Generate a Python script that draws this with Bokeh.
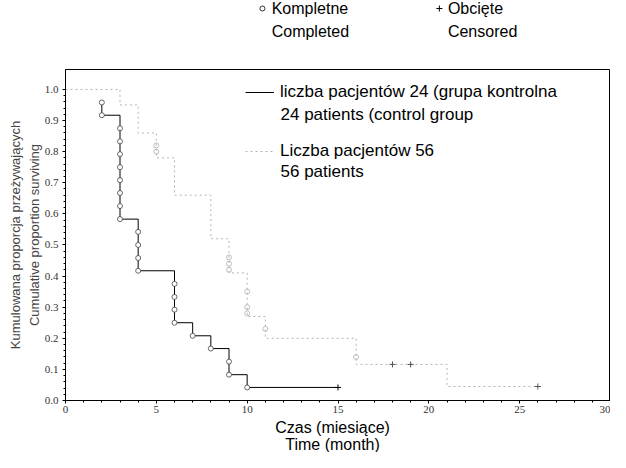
from bokeh.plotting import figure
from bokeh.layouts import column
from bokeh.models import (Range1d, Label, Legend, LegendItem, FixedTicker,
                          CustomJSTickFormatter, Title)
from bokeh.core.properties import value
from bokeh.embed import file_html
from bokeh.resources import INLINE

# ---- data -------------------------------------------------------------
# control group (24 patients): step curve
ctrl_time = [2, 2, 3, 4, 6, 7, 8, 9, 10, 15]
ctrl_surv = [0.958, 0.917, 0.583, 0.417, 0.25, 0.208, 0.167, 0.083, 0.042, 0.042]
# completed (death) marks on control curve
ctrl_done_time = [2, 2, 3, 3, 3, 3, 3, 3, 3, 3, 4, 4, 4, 4, 6, 6, 6, 6, 7, 8, 9, 9, 10]
ctrl_done_surv = [0.958, 0.917, 0.875, 0.833, 0.792, 0.75, 0.708, 0.667, 0.625, 0.583,
                  0.542, 0.5, 0.458, 0.417, 0.375, 0.333, 0.292, 0.25, 0.208, 0.167,
                  0.125, 0.083, 0.042]
ctrl_cens_time = [15]
ctrl_cens_surv = [0.042]

# group of 56 patients: step curve
grp_time = [0, 3, 4, 5, 6, 8, 9, 10, 11, 16, 21, 26]
grp_surv = [1.0, 0.95, 0.86, 0.78, 0.66, 0.52, 0.41, 0.27, 0.20, 0.116, 0.045, 0.045]
grp_done_time = [5, 5, 9, 9, 9, 10, 10, 10, 11, 16]
grp_done_surv = [0.82, 0.80, 0.46, 0.44, 0.42, 0.35, 0.30, 0.28, 0.23, 0.14]
grp_cens_time = [18, 19, 26]
grp_cens_surv = [0.116, 0.116, 0.045]

x_ticks = [0, 5, 10, 15, 20, 25, 30]
y_ticks = [0.0, 0.1, 0.2, 0.3, 0.4, 0.5, 0.6, 0.7, 0.8, 0.9, 1.0]

FONT = "Liberation Sans"
NARROW = "Liberation Sans Narrow"
W = 610
XMAX = 30


def blank(h):
    # strip sharing the main plot's horizontal scale (frames are aligned in the column)
    f = figure(width=W, height=h, output_backend="svg", toolbar_location=None,
               x_range=Range1d(0, XMAX), y_range=Range1d(0, h), min_border=0,
               x_axis_location=None, y_axis_location=None)
    f.grid.visible = False
    f.outline_line_color = None
    return f


# ---- header (symbol key) --------------------------------------------------
hdr = blank(68)
hdr.scatter([10.84], [60], marker="circle", size=5, fill_color=None,
            line_color="black", line_width=0.8)
hdr.scatter([20.58], [60], marker="cross", size=6, line_color="black", line_width=1)
hdr.text(x=[11.35, 11.35, 21.05, 21.05], y=[60, 37, 60, 37],
         text=["Kompletne", "Completed", "Obcięte", "Censored"],
         text_font=value(FONT), text_font_size="16px", text_baseline="middle",
         text_align="left", text_color="black")

# ---- main plot -------------------------------------------------------------
p = figure(width=W, height=350, output_backend="svg", toolbar_location=None,
           x_range=Range1d(0, XMAX), y_range=Range1d(0, 1.064),
           min_border_left=65, min_border_right=0, min_border_top=1,
           min_border_bottom=18)
p.xgrid.visible = False
p.ygrid.visible = False
p.outline_line_color = "black"
p.outline_line_width = 1

for ax in (p.xaxis[0], p.yaxis[0]):
    ax.axis_line_color = "black"
    ax.major_tick_line_color = "black"
    ax.minor_tick_line_color = "black"
    ax.major_tick_in = 0
    ax.major_tick_out = 3
    ax.minor_tick_in = 0
    ax.minor_tick_out = 2
    ax.major_label_text_font = NARROW
    ax.major_label_text_font_size = "11px"
    ax.major_label_text_color = "#333333"
p.xaxis.ticker = FixedTicker(ticks=x_ticks, minor_ticks=list(range(0, 31)))
p.yaxis.ticker = FixedTicker(ticks=y_ticks, minor_ticks=[i / 50 for i in range(0, 51)])
p.yaxis.formatter = CustomJSTickFormatter(code="return tick.toFixed(1);")
p.xaxis.major_label_standoff = 2
p.yaxis.major_label_standoff = 4

p.add_layout(Title(text="Cumulative proportion surviving", align="center",
                   text_font=FONT, text_font_size="13px", text_font_style="normal",
                   standoff=0), "left")
p.add_layout(Title(text="Kumulowana proporcja przeżywających", align="center",
                   text_font=FONT, text_font_size="13px", text_font_style="normal",
                   standoff=3), "left")

# ---- curves ------------------------------------------------------------
r_grp = p.step(grp_time, grp_surv, mode="after", line_color="#b4b4b4",
               line_width=1, line_dash="2 3")
p.scatter(grp_done_time, grp_done_surv, marker="circle", size=5,
          fill_color=None, line_color="#b0b0b0", line_width=0.8)
p.scatter(grp_cens_time, grp_cens_surv, marker="cross", size=6,
          line_color="#555555", line_width=1)

r_ctrl = p.step(ctrl_time, ctrl_surv, mode="after", line_color="black", line_width=1)
p.scatter(ctrl_done_time, ctrl_done_surv, marker="circle", size=5,
          fill_color="white", line_color="#444444", line_width=0.8)
p.scatter(ctrl_cens_time, ctrl_cens_surv, marker="cross", size=6,
          line_color="black", line_width=1)

# ---- legend inside -------------------------------------------------------
leg = Legend(items=[LegendItem(label="liczba pacjentów 24 (grupa kontrolna", renderers=[r_ctrl]),
                    LegendItem(label="Liczba pacjentów 56", renderers=[r_grp])],
             location=(180, 239), padding=0, margin=0, spacing=39,
             glyph_width=29, glyph_height=20, label_height=20, label_standoff=6,
             border_line_alpha=0, background_fill_alpha=0,
             label_text_font=FONT, label_text_font_size="17px",
             label_text_color="black")
p.add_layout(leg, "center")

for txt, yy in (("24 patients (control group", 286), ("56 patients", 229)):
    p.add_layout(Label(x=215, y=yy, x_units="screen", y_units="screen", text=txt,
                       text_font=FONT, text_font_size="17px", text_align="left",
                       text_baseline="middle", text_color="black"))

# ---- footer (x-axis titles) ---------------------------------------------------
ftr = blank(34)
ftr.text(x=[14.7, 14.7], y=[25, 8], text=["Czas (miesiące)", "Time (month)"],
         text_font=value(FONT), text_font_size="16px", text_baseline="middle",
         text_align="center", text_color="black")

open("out.html", "w").write(file_html(column(hdr, p, ftr, spacing=0), INLINE))
